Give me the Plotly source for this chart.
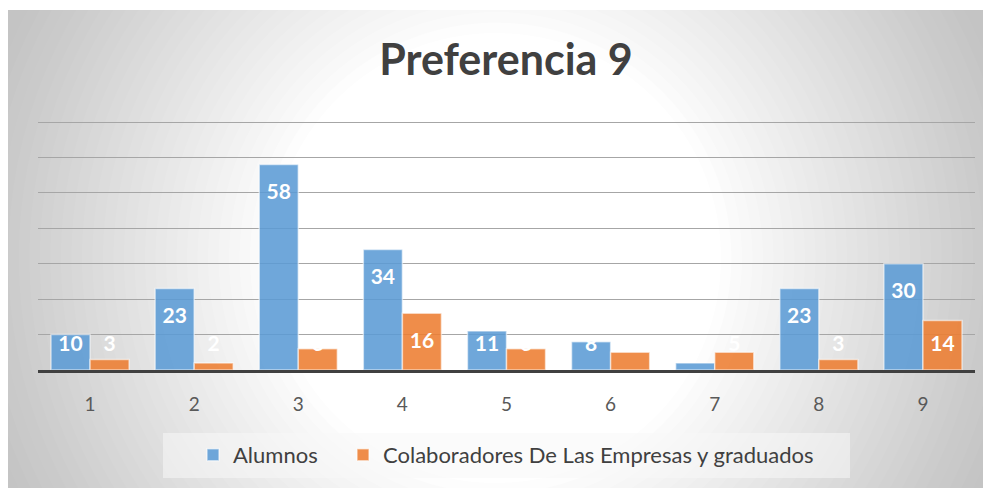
import plotly.graph_objects as go

categories = ["1", "2", "3", "4", "5", "6", "7", "8", "9"]
alumnos = [10, 23, 58, 34, 11, 8, 2, 23, 30]
colaboradores = [3, 2, 6, 16, 6, 5, 5, 3, 14]
series_names = ["Alumnos", "Colaboradores De Las Empresas y graduados"]
title_text = "Preferencia 9"

# the page adds an 8px body margin, so the figure is drawn 8px smaller
W, H = 983, 480
L, R, T, B = 30, 16, 107, 118
PW, PH = W - L - R, H - T - B
YMAX = 72
FONT = "Lato"


def px_x(px):
    return (px - L) / PW


def px_y(py):
    return (H - B - py) / PH


units_per_px = YMAX / PH


def label_y(v):
    # Excel "inside end" placement: ~29px below bar top, clamped above the baseline
    return max(v - 29 * units_per_px, 24 * units_per_px)


shapes = []
# gray chart-area background
shapes.append(dict(type="rect", xref="paper", yref="paper", layer="below",
                   x0=px_x(-1), x1=px_x(W), y0=px_y(H), y1=px_y(2),
                   fillcolor="#c4c4c4", line=dict(width=0)))
# radial gradient: white core, fading to gray
cx, cy = 488, 250
r_in, r_out = 225, 530
N = 30
prev = 0.0
for i in range(1, N + 1):
    t = i / N
    alpha = (t - prev) / (1 - prev)
    prev = t
    r = r_out - (r_out - r_in) * (i - 1) / (N - 1)
    shapes.append(dict(type="circle", xref="paper", yref="paper", layer="below",
                       x0=px_x(cx - r), x1=px_x(cx + r),
                       y0=px_y(cy + r), y1=px_y(cy - r),
                       fillcolor="rgba(255,255,255,%.4f)" % alpha, line=dict(width=0)))
# white strip above the chart area
shapes.append(dict(type="rect", xref="paper", yref="paper", layer="below",
                   x0=px_x(-1), x1=px_x(W), y0=px_y(2), y1=px_y(0),
                   fillcolor="white", line=dict(width=0)))
# legend box
shapes.append(dict(type="rect", xref="paper", yref="paper", layer="below",
                   x0=px_x(155), x1=px_x(842), y0=px_y(470), y1=px_y(425),
                   fillcolor="rgba(248,248,248,0.55)", line=dict(width=0)))

colors = ["rgba(91,155,213,0.88)", "rgba(237,125,49,0.88)"]
legends = ["legend", "legend2"]
fig = go.Figure()
for name, vals, col, lg in zip(series_names, [alumnos, colaboradores], colors, legends):
    fig.add_trace(go.Bar(
        x=categories, y=vals, name=name, legend=lg,
        marker=dict(color=col, line=dict(color="rgba(255,255,255,0.55)", width=1.5)),
        hoverinfo="skip",
    ))
for name, vals in zip(series_names, [alumnos, colaboradores]):
    fig.add_trace(go.Scatter(
        x=categories, y=[label_y(v) for v in vals], mode="text",
        text=[str(v) for v in vals], showlegend=False,
        textfont=dict(family=FONT, size=21, color="white", weight="bold"),
        textposition="middle center", cliponaxis=False, hoverinfo="skip",
    ))

legend_font = dict(family=FONT, size=22, color="#404040")
fig.update_layout(
    width=W, height=H,
    margin=dict(l=L, r=R, t=T, b=B),
    paper_bgcolor="white", plot_bgcolor="rgba(0,0,0,0)",
    barmode="group", bargap=0.25, bargroupgap=0,
    scattermode="group", scattergap=0.25,
    shapes=shapes,
    title=dict(text=title_text, x=498 / W, xanchor="center",
               y=1 - 52 / H, yanchor="middle",
               font=dict(family=FONT, size=43, color="#404040", weight="bold")),
    xaxis=dict(showline=True, linecolor="#404040", linewidth=3, showgrid=False,
               tickfont=dict(family=FONT, size=19, color="#595959"),
               ticks="", ticklabelstandoff=15),
    yaxis=dict(range=[0, YMAX], tickmode="linear", tick0=0, dtick=10,
               showticklabels=False, showgrid=True,
               gridcolor="#a6a6a6", gridwidth=1, zeroline=False),
    legend=dict(orientation="h", x=px_x(185), xanchor="left", y=px_y(447), yanchor="middle",
                font=legend_font, bgcolor="rgba(0,0,0,0)"),
    legend2=dict(orientation="h", x=px_x(335), xanchor="left", y=px_y(447), yanchor="middle",
                 font=legend_font, bgcolor="rgba(0,0,0,0)"),
    showlegend=True,
)

fig.write_html("out.html")
